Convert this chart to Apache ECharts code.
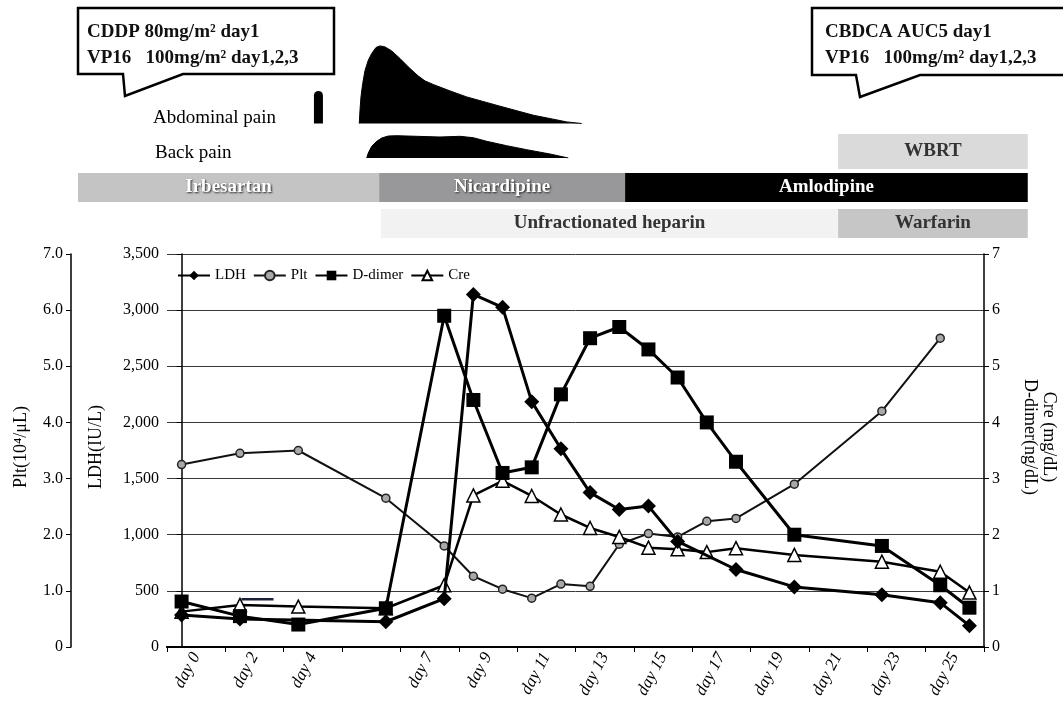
<!DOCTYPE html>
<html><head><meta charset="utf-8">
<script src="https://cdn.jsdelivr.net/npm/echarts@6/dist/echarts.min.js"></script>
<style>html,body{margin:0;padding:0;background:#fff}#c{width:1063px;height:709px}</style>
</head><body><div id="c"></div>
<script>
// ---------- data ----------
const dayLabels = ['day 0','day 2','day 4','','day 7','day 9','day 11','day 13','day 15','day 17','day 19','day 21','day 23','day 25'];
const ldhDays   = [0,2,7,9,10,11,12,13,14,15,16,17,19,21,24,26,27];
const ldhValues = [285,250,225,430,3140,3025,2185,1765,1375,1225,1255,940,690,535,465,395,190];
const pltDays   = [0,2,4,7,9,10,11,12,13,14,15,16,17,18,19,21,24,26];
const pltValues = [3.25,3.45,3.5,2.65,1.80,1.26,1.03,0.87,1.12,1.08,1.83,2.02,1.96,2.24,2.29,2.9,4.2,5.5];
const ddimerDays   = [0,2,4,7,9,10,11,12,13,14,15,16,17,18,19,21,24,26,27];
const ddimerValues = [0.81,0.55,0.40,0.69,5.9,4.4,3.1,3.2,4.5,5.5,5.7,5.3,4.8,4.0,3.3,2.0,1.8,1.1,0.70];
const creDays   = [0,2,4,7,9,10,11,12,13,14,15,16,17,18,19,21,24,26,27];
const creValues = [0.63,0.75,0.72,0.69,1.10,2.7,2.96,2.69,2.36,2.12,1.96,1.77,1.74,1.69,1.76,1.64,1.52,1.34,0.97];
const strayDays = [2.05,3.15];
const strayValues = [0.85,0.85];

// symptoms (relative intensity)
const abdoSpikeDays = [4.69];
const abdoSpikeLevel = [32.5];
const abdominalPainDays  = [6.09,6.114,6.148,6.207,6.286,6.399,6.515,6.663,6.8,6.971,7.201,7.485,7.828,8.112,8.342,8.626,9.199,9.771,10.912,12.053,13.198,13.712];
const abdominalPainLevel = [0,13.3,26.6,40,53,63.3,70,76,77.6,76.6,72.6,65,55,47.5,42.6,39,32.6,26.6,17.3,8.3,1.6,0];
const backPainDays  = [6.344,6.399,6.515,6.687,6.858,7.084,7.372,8.057,8.856,9.541,9.997,10.456,11.142,11.827,12.626,13.253];
const backPainLevel = [0,5,11.7,16.7,20,22,22.3,21.7,21,21.7,20.3,16.7,12.3,8.3,4,0];

// treatments
const rowLabels = ['radiation','antihypertensive','anticoagulant'];
const treatmentNames = ['Irbesartan','Nicardipine','Amlodipine','Unfractionated heparin','Warfarin','WBRT'];
const treatmentStart = [-3.55,6.77,15.2,6.83,22.5,22.5];
const treatmentEnd   = [6.77,15.2,29.0,22.5,29.0,29.0];
const treatmentRow   = [1,1,1,2,2,0];
const treatmentFill  = ['#c4c4c4','#98989a','#000000','#f2f2f2','#c6c6c6','#dadada'];
const treatmentText  = ['#ffffff','#ffffff','#ffffff','#333333','#333333','#333333'];
const treatmentShadow= [true,true,false,false,false,false];

// ---------- chart ----------
const SERIF = "'Liberation Serif','Times New Roman',serif";
const pair = (xs, ys) => xs.map((x, i) => [x, ys[i]]);
const chart = echarts.init(document.getElementById('c'));
const GL = 167, GR = 79;
const hiddenVal = (grid) => ({type:'value', gridIndex:grid, min:-0.5, max:27.5, show:false});

const option = {
  backgroundColor:'#fff',
  animation:false,
  textStyle:{fontFamily:SERIF},
  grid:[
    {left:GL, right:GR, top:254, height:393},
    {left:GL, right:GR, top:43.5, height:80},
    {left:GL, right:GR, top:133, height:25},
    {left:GL, right:GR, top:133.5, height:108}
  ],
  legend:{
    left:172, top:263, itemWidth:32, itemHeight:12, itemGap:7,
    textStyle:{fontFamily:SERIF, fontSize:15, color:'#000'},
    data:['LDH','Plt','D-dimer','Cre']
  },
  xAxis:[
    {type:'category', gridIndex:0, data:dayLabels, position:'bottom', boundaryGap:true,
     axisLine:{lineStyle:{color:'#000', width:2}},
     axisTick:{show:true, interval:0, length:5, lineStyle:{color:'#000', width:1}},
     axisLabel:{interval:0, rotate:62, margin:7, fontSize:17, fontStyle:'italic', color:'#000', fontFamily:SERIF},
     splitLine:{show:false}},
    {type:'value', gridIndex:0, min:-0.5, max:27.5, position:'top',
     axisLine:{show:true, lineStyle:{color:'#000', width:2}}, axisTick:{show:false}, axisLabel:{show:false}, splitLine:{show:false}},
    hiddenVal(1), hiddenVal(2), hiddenVal(3)
  ],
  yAxis:[
    {type:'value', gridIndex:0, position:'left', min:0, max:3500, interval:500,
     axisLine:{show:true, lineStyle:{color:'#000', width:1.5}},
     axisTick:{show:true, length:5, lineStyle:{color:'#000'}},
     axisLabel:{fontSize:16, color:'#000', margin:8, fontFamily:SERIF, formatter:v => v.toLocaleString('en-US')},
     splitLine:{show:true, lineStyle:{color:'#3a3a3a', width:1}}},
    {type:'value', gridIndex:0, position:'left', offset:96, min:0, max:7, interval:1,
     axisLine:{show:true, lineStyle:{color:'#000', width:1.5}},
     axisTick:{show:true, length:5, lineStyle:{color:'#000'}},
     axisLabel:{fontSize:16, color:'#000', margin:8, fontFamily:SERIF, formatter:v => v === 0 ? '0' : v.toFixed(1)},
     splitLine:{show:false}},
    {type:'value', gridIndex:0, position:'right', min:0, max:7, interval:1,
     axisLine:{show:true, lineStyle:{color:'#000', width:1.5}},
     axisTick:{show:true, length:5, lineStyle:{color:'#000'}},
     axisLabel:{fontSize:16, color:'#000', margin:8, fontFamily:SERIF},
     splitLine:{show:false}},
    {type:'value', gridIndex:1, min:0, max:80, show:false},
    {type:'value', gridIndex:2, min:0, max:25, show:false},
    {type:'category', gridIndex:3, data:rowLabels, inverse:true, show:false}
  ],
  graphic:[
    {type:'polygon', z:10, shape:{points:[[78,8],[334,8],[334,74],[183,74],[125,96],[123,74],[78,74]]},
     style:{fill:'#fff', stroke:'#000', lineWidth:2.5, lineJoin:'miter'}},
    {type:'text', z:11, x:87, y:19, style:{text:'CDDP 80mg/m² day1\nVP16   100mg/m² day1,2,3', font:'bold 19px '+SERIF, fill:'#111', lineHeight:26}},
    {type:'polygon', z:10, shape:{points:[[812,8],[1070,8],[1070,75],[920,75],[860,97],[856,75],[812,75]]},
     style:{fill:'#fff', stroke:'#000', lineWidth:2.5, lineJoin:'miter'}},
    {type:'text', z:11, x:825, y:19, style:{text:'CBDCA AUC5 day1\nVP16   100mg/m² day1,2,3', font:'bold 19px '+SERIF, fill:'#111', lineHeight:26}},
    {type:'text', x:153, y:118, style:{text:'Abdominal pain', font:'19px '+SERIF, fill:'#000', verticalAlign:'middle'}},
    {type:'text', x:155, y:153, style:{text:'Back pain', font:'19px '+SERIF, fill:'#000', verticalAlign:'middle'}},
    {type:'text', x:21, y:447, rotation:Math.PI/2, style:{text:'Plt(10⁴/μL)', font:'18px '+SERIF, fill:'#000', align:'center', verticalAlign:'middle'}},
    {type:'text', x:96, y:447, rotation:Math.PI/2, style:{text:'LDH(IU/L)', font:'18px '+SERIF, fill:'#000', align:'center', verticalAlign:'middle'}},
    {type:'text', x:1039, y:437, rotation:-Math.PI/2, style:{text:'Cre (mg/dL)\nD-dimer(ng/dL)', font:'18px '+SERIF, fill:'#000', align:'center', verticalAlign:'middle', lineHeight:19}}
  ],
  series:[
    {name:'Plt', type:'line', xAxisIndex:1, yAxisIndex:1, data:pair(pltDays, pltValues), z:3,
     symbol:'circle', symbolSize:8, lineStyle:{color:'#111', width:2},
     itemStyle:{color:'#a8a8a8', borderColor:'#222', borderWidth:1.5}},
    {name:'Cre', type:'line', xAxisIndex:1, yAxisIndex:2, data:pair(creDays, creValues), z:4,
     symbol:'triangle', symbolSize:13, lineStyle:{color:'#000', width:2.5},
     itemStyle:{color:'#fff', borderColor:'#000', borderWidth:1.5}},
    {name:'LDH', type:'line', xAxisIndex:1, yAxisIndex:0, data:pair(ldhDays, ldhValues), z:5,
     symbol:'diamond', symbolSize:15, lineStyle:{color:'#000', width:3},
     itemStyle:{color:'#000', borderColor:'#000', borderWidth:0}},
    {name:'D-dimer', type:'line', xAxisIndex:1, yAxisIndex:2, data:pair(ddimerDays, ddimerValues), z:6,
     symbol:'rect', symbolSize:14, lineStyle:{color:'#000', width:3},
     itemStyle:{color:'#000', borderColor:'#000', borderWidth:0}},
    {name:'stray', type:'line', xAxisIndex:1, yAxisIndex:2, data:pair(strayDays, strayValues), z:4,
     symbol:'none', lineStyle:{color:'#1b2238', width:2.5}},
    {type:'bar', xAxisIndex:2, yAxisIndex:3, data:pair(abdoSpikeDays, abdoSpikeLevel), barWidth:9,
     itemStyle:{color:'#000', borderRadius:[4.5,4.5,0,0]}},
    {type:'line', xAxisIndex:2, yAxisIndex:3, data:pair(abdominalPainDays, abdominalPainLevel),
     smooth:false, symbol:'none', lineStyle:{color:'#000', width:1}, areaStyle:{color:'#000', opacity:1}},
    {type:'line', xAxisIndex:3, yAxisIndex:4, data:pair(backPainDays, backPainLevel),
     smooth:false, symbol:'none', lineStyle:{color:'#000', width:1}, areaStyle:{color:'#000', opacity:1}},
    {type:'custom', xAxisIndex:4, yAxisIndex:5, clip:false,
     data:treatmentNames.map((n, i) => [treatmentStart[i], treatmentEnd[i], treatmentRow[i]]),
     renderItem:(params, api) => {
       const i = params.dataIndex;
       const row = api.value(2);
       const s = api.coord([api.value(0), row]);
       const e = api.coord([api.value(1), row]);
       const h = api.size([0, 1])[1] * (row === 0 ? 0.97 : 0.8);
       const txt = {text:treatmentNames[i], font:'bold 19px '+SERIF, fill:treatmentText[i], align:'center', verticalAlign:'middle'};
       if (treatmentShadow[i]) { txt.textShadowColor = '#2a2a2a'; txt.textShadowBlur = 2; txt.textShadowOffsetX = 1; txt.textShadowOffsetY = 1; }
       return {type:'group', children:[
         {type:'rect', shape:{x:s[0], y:s[1]-h/2, width:e[0]-s[0], height:h}, style:{fill:treatmentFill[i]}},
         {type:'text', x:(s[0]+e[0])/2, y:s[1], style:txt}
       ]};
     }}
  ]
};
chart.setOption(option);
</script></body></html>
